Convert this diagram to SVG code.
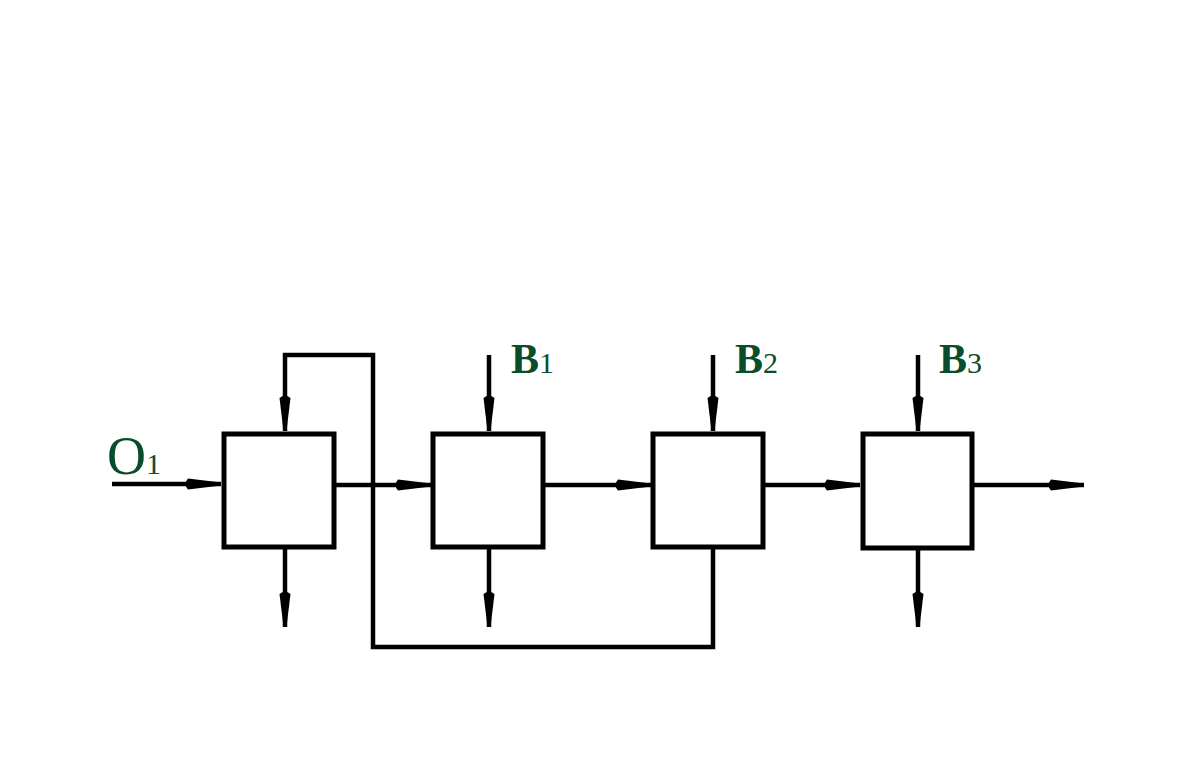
<svg xmlns="http://www.w3.org/2000/svg" width="1195" height="778" viewBox="0 0 1195 778">
<style>
.box{fill:#fff;stroke:#000;stroke-width:5}
.ln{fill:none;stroke:#000;stroke-width:4.5;stroke-linejoin:miter;marker-end:url(#ah)}
.lb{font-family:"Liberation Serif","Times New Roman",serif;fill:#0a4d2c}
</style>
<defs>
<marker id="ah" markerUnits="userSpaceOnUse" viewBox="-40 -7 42 14" markerWidth="42" markerHeight="14" refX="0" refY="0" orient="auto">
<path d="M-33,-5.5 Q-38,0 -33,5.5 L0,1.5 L0,-1.5 Z" fill="#000"/>
</marker>
</defs>
<rect width="1195" height="778" fill="#fff"/>
<g id="connectors">
<line class="ln" x1="112" y1="484" x2="221" y2="484"/>
<line class="ln" x1="334" y1="485" x2="431" y2="485"/>
<line class="ln" x1="543" y1="485" x2="651" y2="485"/>
<line class="ln" x1="763" y1="485" x2="860" y2="485"/>
<line class="ln" x1="972" y1="485" x2="1084" y2="485"/>
<line class="ln" x1="489" y1="355" x2="489" y2="431"/>
<line class="ln" x1="713" y1="355" x2="713" y2="431"/>
<line class="ln" x1="918" y1="355" x2="918" y2="431"/>
<line class="ln" x1="285" y1="547" x2="285" y2="627"/>
<line class="ln" x1="489" y1="547" x2="489" y2="627"/>
<line class="ln" x1="918" y1="548" x2="918" y2="627"/>
<path class="ln" d="M713,547 V647 H373 V355 H285 V431"/>
</g>
<g id="node1"><rect class="box" x="224" y="434" width="110" height="113"/></g>
<g id="node2"><rect class="box" x="433" y="434" width="110" height="113"/></g>
<g id="node3"><rect class="box" x="653" y="434" width="110" height="113"/></g>
<g id="node4"><rect class="box" x="863" y="434" width="109" height="114"/></g>
<g id="labels">
<text class="lb" x="107" y="474" font-size="54">O<tspan font-size="30">1</tspan></text>
<text class="lb" x="511" y="373" font-size="42" font-weight="bold">B<tspan font-size="30" font-weight="normal">1</tspan></text>
<text class="lb" x="735" y="373" font-size="42" font-weight="bold">B<tspan font-size="30" font-weight="normal">2</tspan></text>
<text class="lb" x="939" y="373" font-size="42" font-weight="bold">B<tspan font-size="30" font-weight="normal">3</tspan></text>
</g>
</svg>
